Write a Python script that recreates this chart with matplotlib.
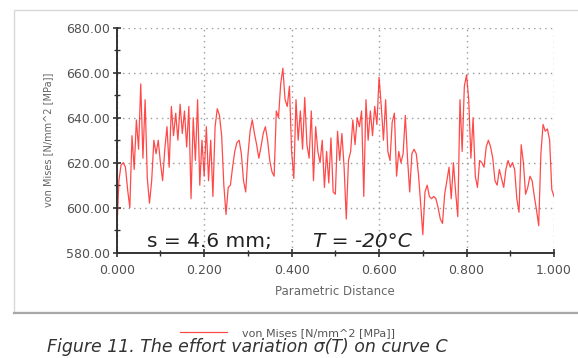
import numpy as np
import matplotlib
matplotlib.use("Agg")
import matplotlib.pyplot as plt
from matplotlib.patches import Rectangle
from matplotlib.lines import Line2D

# von Mises stress along the curve (sampled every 0.005 of parametric distance)
stress = [
    588, 612, 619, 620, 618, 608, 600, 632, 617, 639,
    626, 655, 622, 648, 613, 602, 612, 630, 624, 630,
    620, 612, 626, 636, 618, 645, 632, 642, 630, 646,
    633, 643, 627, 645, 604, 640, 621, 648, 610, 630,
    614, 636, 612, 630, 605, 636, 644, 641, 632, 610,
    597, 609, 610, 618, 625, 629, 630, 624, 612, 607,
    623, 634, 639, 633, 628, 622, 627, 633, 636, 630,
    621, 616, 614, 643, 640, 655, 662, 648, 645, 654,
    625, 613, 648, 630, 643, 626, 649, 628, 622, 643,
    612, 636, 625, 620, 630, 609, 625, 611, 631, 607,
    606, 634, 621, 633, 618, 595, 621, 625, 639, 628,
    640, 636, 643, 605, 648, 630, 643, 632, 645, 637,
    658, 645, 630, 648, 625, 621, 638, 642, 614, 625,
    620, 624, 641, 622, 607, 624, 626, 624, 615, 602,
    588, 607, 610, 605, 604, 605, 604, 600, 595, 593,
    606, 612, 618, 604, 620, 607, 596, 648, 625, 654,
    659, 648, 622, 640, 614, 609, 621, 620, 618, 627,
    630, 627, 622, 612, 610, 617, 613, 609, 617, 621,
    618, 620, 617, 604, 598, 628, 620, 606, 609, 614,
    612, 605, 599, 592, 624, 637, 634, 635, 630, 608,
    605,
]
distance = np.linspace(0.0, 1.0, len(stress))

y_ticks = [580, 600, 620, 640, 660, 680]
x_ticks = [0.0, 0.2, 0.4, 0.6, 0.8, 1.0]
series_label = "von Mises [N/mm^2 [MPa]]"
x_label = "Parametric Distance"
note_s = "s = 4.6 mm;"
note_t = "T = -20°C"
caption = "Figure 11. The effort variation σ(T) on curve C"

W, H = 578, 358
fig = plt.figure(figsize=(W / 100, H / 100), dpi=100)
fig.patch.set_facecolor("white")

# outer frame
fig.add_artist(Rectangle((14 / W, 1 - 312 / H), 1.2, (312 - 10) / H,
                         transform=fig.transFigure, facecolor="none",
                         edgecolor="#d8d8d8", lw=1.0))
fig.add_artist(Line2D([14 / W, 1.0], [1 - 313 / H, 1 - 313 / H],
                      transform=fig.transFigure, color="#a8a8a8", lw=1.6))

ax = fig.add_axes([116.7 / W, 1 - 252.7 / H, (554 - 116.7) / W, (252.7 - 27.7) / H])
line, = ax.plot(distance, stress, color="#ff2a2a", lw=0.9, alpha=0.85,
                label=series_label)

ax.set_xlim(0, 1)
ax.set_ylim(580, 680)
ax.set_yticks(y_ticks)
ax.set_yticks(np.arange(580, 681, 10), minor=True)
ax.set_xticks(x_ticks)
ax.set_xticks(np.arange(0, 1.01, 0.1), minor=True)
ax.set_yticklabels([f"{v:.2f}" for v in y_ticks])
ax.set_xticklabels([f"{v:.3f}" for v in x_ticks])

for s in ["top", "right"]:
    ax.spines[s].set_visible(False)
for s in ["left", "bottom"]:
    ax.spines[s].set_color("#333333")
    ax.spines[s].set_linewidth(1.4)

ax.tick_params(axis="both", which="major", direction="inout", length=6,
               width=1.2, color="#333333", labelsize=9, labelcolor="#505050")
ax.tick_params(axis="x", which="major", pad=5)
ax.tick_params(axis="y", which="major", pad=2)
ax.tick_params(axis="both", which="minor", direction="inout", length=5,
               width=1.0, color="#333333")
ax.grid(True, which="major", color="#9a9a9a", lw=1.0, linestyle=(0, (1, 3)))

ax.set_xlabel(x_label, fontsize=8.5, color="#666666", labelpad=6)
ax.set_ylabel(series_label, fontsize=7, color="#666666", labelpad=9)

ax.text(0.07, 582.5, note_s, fontsize=14.5, color="#222222", family="DejaVu Sans")
ax.text(0.45, 582.5, note_t, fontsize=14.5, color="#222222", family="DejaVu Sans",
        style="italic")

fig.legend(handles=[line], loc="center left",
           bbox_to_anchor=(170 / W, 1 - 333 / H), frameon=False,
           fontsize=8, handlelength=4.2, handletextpad=1.4,
           labelcolor="#555555")

fig.text(47 / W, 1.5 / H, caption, fontsize=12.5, style="italic",
         family="DejaVu Sans", color="#333333", va="bottom")

fig.savefig("out.png", dpi=100, facecolor="white")
